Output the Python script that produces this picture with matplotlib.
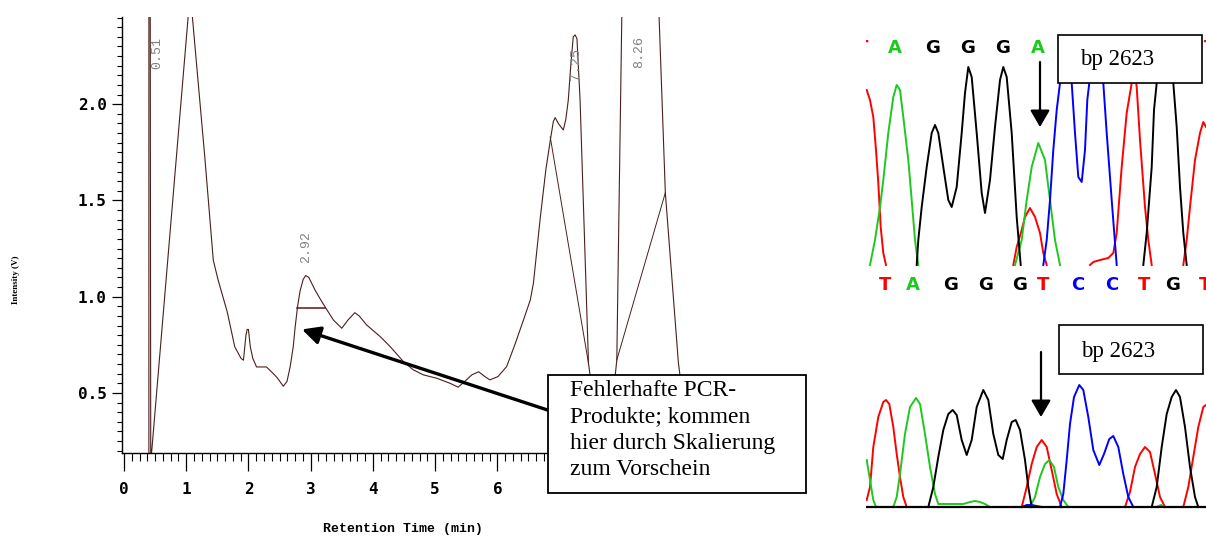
import matplotlib
matplotlib.use('Agg')
import matplotlib.pyplot as plt
from matplotlib.patches import Rectangle
from matplotlib.ticker import MultipleLocator

W, H = 1206, 538

# HPLC trace: retention time (min) and intensity (V)
trace_t = [0.40, 0.40, 0.42, 0.43, 0.445, 1.03, 1.065, 1.10, 1.30, 1.435, 1.51,
           1.66, 1.78, 1.88, 1.92, 1.96, 1.98, 2.00, 2.03, 2.07, 2.13, 2.29, 2.40,
           2.46, 2.56, 2.62, 2.67, 2.72, 2.75, 2.79, 2.83, 2.88, 2.92, 2.97, 3.07,
           3.15, 3.23, 3.365, 3.50, 3.60, 3.71, 3.78, 3.90, 4.12, 4.28, 4.49, 4.65,
           4.81, 5.03, 5.24, 5.37, 5.45, 5.59, 5.70, 5.80, 5.88, 6.01, 6.15, 6.29,
           6.42, 6.53, 6.58, 6.69, 6.78, 6.85, 6.90, 6.93, 6.98, 7.06, 7.10, 7.14,
           7.18, 7.22, 7.25, 7.28, 7.33, 7.465, 7.55, 7.85, 7.92, 8.025, 8.54,
           8.60, 8.70, 8.91, 9.05]
trace_i = [0.00, 3.00, 3.00, 0.10, 0.195, 2.45, 2.60, 2.45, 1.72, 1.19, 1.09,
           0.92, 0.74, 0.68, 0.67, 0.80, 0.83, 0.83, 0.74, 0.68, 0.635, 0.635, 0.60,
           0.58, 0.535, 0.56, 0.635, 0.74, 0.84, 0.95, 1.03, 1.09, 1.11, 1.10, 1.035,
           0.99, 0.948, 0.879, 0.836, 0.879, 0.917, 0.90, 0.853, 0.792, 0.74, 0.663, 0.62,
           0.594, 0.576, 0.55, 0.53, 0.552, 0.594, 0.61, 0.585, 0.568, 0.585, 0.637, 0.758,
           0.879, 0.983, 1.07, 1.41, 1.66, 1.81, 1.91, 1.93, 1.90, 1.866, 1.92, 2.02,
           2.20, 2.35, 2.36, 2.34, 2.02, 0.654, 0.45, 0.45, 0.671, 3.00, 3.00,
           2.45, 1.54, 0.656, 0.30]

# integration baselines drawn by the software
drop_a_t, drop_a_i = [6.85, 7.465], [1.83, 0.654]
drop_b_t, drop_b_i = [7.92, 8.70], [0.671, 1.54]
base_292_t, base_292_i = [2.78, 3.23], [0.94, 0.94]

peak_names = ['0.51', '2.92', '7.25', '8.26']
peak_label_t = [0.53, 2.93, 7.27, 8.28]
peak_label_i = [2.264, 1.26, 2.21, 2.27]

# sequencing traces (scan position, signal), one list per peak group
# upper panel = wild type
top_red = [
    [(0.7, 175), (4, 165), (7.3, 148), (10, 115), (12.3, 82), (14.7, 38), (17.3, 12), (20, 0)],
    [(147.3, 0), (150.7, 18), (155.7, 35), (159, 48), (164, 57), (169, 48), (174, 32),
     (177.3, 12), (180.7, 0)],
    [(224, 0), (227.3, 3), (234, 5), (242.3, 7), (247.3, 12), (250.7, 32), (255.7, 98),
     (260.7, 152), (265.7, 182), (267.3, 203), (270.7, 178), (274, 125), (279, 58),
     (282.3, 25), (285.7, 0)],
    [(317.3, 0), (320.7, 25), (324, 58), (329, 105), (334, 132), (337.3, 143), (340, 138)],
]
top_green = [
    [(4, 0), (9, 25), (14, 58), (17.3, 85), (22.3, 132), (27.3, 168), (30.7, 180), (34, 175),
     (37.3, 148), (42.3, 105), (45.7, 65), (49, 25), (52.3, 0)],
    [(149, 0), (155.7, 25), (160.7, 65), (165.7, 98), (172.3, 122), (179, 105), (184, 65),
     (189, 25), (194, 0)],
]
top_black = [
    [(50.7, 0), (52.3, 25), (55.7, 58), (60.7, 98), (65.7, 132), (69, 140), (72.3, 132),
     (77.3, 98), (82.3, 65), (85.7, 58), (90.7, 78), (95.7, 132), (99, 172), (102.3, 198),
     (105.7, 188), (110.7, 132), (115.7, 72), (119, 52), (124, 85), (129, 138), (134, 185),
     (137.3, 198), (140.7, 188), (145.7, 132), (150.7, 48), (154.7, 0)],
    [(277.3, 0), (280.7, 32), (285.7, 98), (288, 155), (290.7, 182), (299, 202), (307.3, 182),
     (310.7, 138), (314, 78), (317.3, 32), (320.7, 0)],
]
top_blue = [
    [(177.3, 0), (180.7, 25), (184, 65), (187.3, 115), (190.7, 155), (194, 182), (199, 198),
     (205.7, 182), (209, 132), (212.3, 88), (215.7, 83), (219, 115), (221.3, 165), (224, 188),
     (229, 198), (237.3, 182), (240.7, 132), (245.7, 65), (250.7, 0)],
]

# lower panel = mutant
bot_red = [
    [(0.7, 7), (4, 20), (7.3, 60), (12.3, 90), (17.3, 105), (20, 107), (23.3, 103), (27.3, 80),
     (30.7, 53), (34, 30), (37.3, 10), (40.7, 0)],
    [(155.7, 0), (160, 17), (165.7, 43), (170.7, 60), (175.7, 67), (180.7, 60), (185.7, 37),
     (190.7, 13), (195.7, 0)],
    [(259, 0), (264, 15), (269, 40), (274, 53), (279, 60), (284, 55), (289, 33), (294, 10),
     (299, 0)],
    [(317.3, 0), (322.3, 20), (327.3, 50), (332.3, 80), (337.3, 100), (340, 102)],
]
bot_green = [
    [(0.7, 47), (4, 27), (7.3, 7), (10, 0)],
    [(27.3, 0), (30.7, 10), (34, 33), (39, 73), (44, 100), (50, 109), (54, 103), (59, 73),
     (64, 40), (69, 13), (72.3, 3), (84, 3), (97.3, 3), (104, 5), (109, 6), (114, 5),
     (119, 3), (124, 0)],
    [(164, 0), (169, 10), (174, 30), (179, 43), (183.3, 47), (188, 40), (192.3, 20),
     (197.3, 7), (202.3, 0)],
    [(290, 0), (295, 2), (300, 0)],
]
bot_black = [
    [(62.3, 0), (67.3, 20), (72.3, 50), (77.3, 77), (82.3, 93), (86.7, 97), (90.7, 92),
     (95.7, 67), (100.7, 52), (105.7, 67), (110.7, 100), (117.3, 117), (122.3, 107),
     (127.3, 73), (132.3, 52), (136.7, 48), (140.7, 67), (145.7, 85), (149.7, 87), (154, 77),
     (159, 47), (162.3, 20), (165.7, 0)],
    [(285.7, 0), (290.7, 20), (295.7, 60), (300.7, 93), (305.7, 110), (310, 117), (314, 110),
     (319, 80), (324, 40), (329, 10), (332.3, 0)],
]
bot_blue = [
    [(155.7, 0), (160.7, 2), (165.7, 2), (170.7, 1), (175.7, 0)],
    [(194, 0), (197.3, 13), (200.7, 47), (204, 83), (208, 110), (213.3, 122), (217.3, 117),
     (222.3, 90), (227.3, 57), (233.3, 42), (238, 53), (243.3, 68), (247.3, 71), (252.3, 60),
     (257.3, 33), (262.3, 10), (267.3, 0)],
]

top_bases = ['T', 'A', 'G', 'G', 'G', 'A', 'C', 'C', 'T', 'G', 'T']
top_base_x = [-4, 29, 67, 102, 137, 172, 200, 236, 270, 306, 344]
bot_bases = ['T', 'A', 'G', 'G', 'G', 'T', 'C', 'C', 'T', 'G', 'T']
bot_base_x = [19, 47, 85, 120, 154, 177, 212, 246, 278, 307, 339]

base_colors = {'A': '#1ec81e', 'C': '#0000ff', 'G': '#000000', 'T': '#ff0000'}

note_text = 'Fehlerhafte PCR-\nProdukte; kommen\nhier durch Skalierung\nzum Vorschein'
bp_text = 'bp 2623'


def px_rect(x0, y0, x1, y1):
    # pixel box (origin top left) -> figure fraction [left, bottom, width, height]
    return [x0 / W, 1 - y1 / H, (x1 - x0) / W, (y1 - y0) / H]


def fx(x):
    return x / W


def fy(y):
    return 1 - y / H


fig = plt.figure(figsize=(W / 100, H / 100), dpi=100)
fig.patch.set_facecolor('white')

# --- chromatogram ---
ax = fig.add_axes(px_rect(122, 17, 684, 453))
ax.plot(trace_t, trace_i, color='#4b1e1e', lw=0.8)
ax.plot(drop_a_t, drop_a_i, color='#4b1e1e', lw=0.7)
ax.plot(drop_b_t, drop_b_i, color='#4b1e1e', lw=0.7)
ax.plot(base_292_t, base_292_i, color='#6a1010', lw=1.1)
for name, t, i in zip(peak_names, peak_label_t, peak_label_i):
    ax.text(t, i, name, rotation=90, ha='center', va='center', fontsize=9.5,
            family='Liberation Mono', color='#808080')

ax.set_xlim(-0.032, 9.0)
ax.set_ylim(0.188, 2.453)
for side in ('top', 'right'):
    ax.spines[side].set_visible(False)
for side in ('left', 'bottom'):
    ax.spines[side].set_linewidth(1.0)
ax.xaxis.set_major_locator(MultipleLocator(1))
ax.xaxis.set_minor_locator(MultipleLocator(0.125))
ax.yaxis.set_minor_locator(MultipleLocator(0.05))
ax.set_yticks([0.5, 1.0, 1.5, 2.0])
ax.set_yticklabels(['0.5', '1.0', '1.5', '2.0'])
ax.set_xticks(range(0, 7))
ax.set_xticklabels([str(v) for v in range(0, 7)])
ax.tick_params(axis='x', which='major', length=13, width=0.9, pad=8)
ax.tick_params(axis='x', which='minor', length=6, width=0.8)
ax.tick_params(axis='y', which='major', length=7, width=0.9, pad=4)
ax.tick_params(axis='y', which='minor', length=3.5, width=0.8)
for lab in ax.get_xticklabels() + ax.get_yticklabels():
    lab.set_family('DejaVu Sans Mono')
    lab.set_fontweight('bold')
    lab.set_fontsize(11.5)

ax.set_xlabel('Retention Time (min)', family='Liberation Mono', fontweight='bold',
              fontsize=9.5, va='center')
ax.xaxis.set_label_coords((403 - 122) / 562, (453 - 529) / 436)
fig.text(fx(16), fy(280), 'Intensity (V)', rotation=90, ha='center', va='center',
         fontsize=6.5, fontweight='bold', family='Liberation Serif')

# note box with arrow onto the small peaks
note = Rectangle((fx(548), fy(493)), fx(806) - fx(548), fy(375) - fy(493),
                 transform=fig.transFigure, facecolor='white', edgecolor='black',
                 lw=1.3, zorder=5)
fig.add_artist(note)
fig.text(fx(570), fy(380), note_text, ha='left', va='top', fontsize=17,
         family='Liberation Serif', linespacing=1.33, zorder=6)
ax.annotate('', xy=(2.86, 0.83), xytext=(6.82, 0.41),
            arrowprops=dict(arrowstyle='-|>,head_length=0.6,head_width=0.3',
                            mutation_scale=18, lw=2.4, color='black',
                            shrinkA=0, shrinkB=0),
            annotation_clip=False, zorder=7)


# --- sequencing traces ---
def draw_panel(rect, ylim, traces, bases):
    pax = fig.add_axes(rect)
    pax.set_xlim(0, 340)
    pax.set_ylim(*ylim)
    pax.axis('off')
    for groups, col in traces:
        for pts in groups:
            xs = [p[0] for p in pts]
            ys = [p[1] for p in pts]
            pax.plot(xs, ys, color=col, lw=1.4)
    for letters, xs, y in bases:
        for b, x in zip(letters, xs):
            pax.text(x, y, b, color=base_colors[b], ha='center', va='center',
                     fontsize=13, fontweight='bold', family='DejaVu Sans',
                     clip_on=True)
    return pax


top_ax = draw_panel(px_rect(866, 25, 1206, 300), (-35, 240),
                    [(top_red, '#ff0000'), (top_green, '#1ec81e'),
                     (top_black, '#000000'), (top_blue, '#0000ff')],
                    [(top_bases, top_base_x, 217), (bot_bases, bot_base_x, -20)])
bot_ax = draw_panel(px_rect(866, 310, 1206, 530), (-23, 197),
                    [(bot_red, '#ff0000'), (bot_green, '#1ec81e'),
                     (bot_black, '#000000'), (bot_blue, '#0000ff')], [])
bot_ax.axhline(0, color='black', lw=1.6)

for pax, x0, y0, y1 in ((top_ax, 174, 203, 138), (bot_ax, 175, 155, 90)):
    pax.annotate('', xy=(x0, y1), xytext=(x0, y0),
                 arrowprops=dict(arrowstyle='-|>,head_length=0.6,head_width=0.35',
                                 mutation_scale=17, lw=1.6, color='black',
                                 shrinkA=0, shrinkB=0),
                 annotation_clip=False)

for (x0, y0, x1, y1), ty in (((1058, 35, 1202, 83), 60), ((1059, 325, 1203, 374), 351)):
    box = Rectangle((fx(x0), fy(y1)), fx(x1) - fx(x0), fy(y0) - fy(y1),
                    transform=fig.transFigure, facecolor='white', edgecolor='black',
                    lw=1.2, zorder=5)
    fig.add_artist(box)
    fig.text(fx(x0 + 22), fy(ty), bp_text, ha='left', va='center', fontsize=16.5,
             family='Liberation Serif', zorder=6)

fig.savefig('out.png', dpi=100)
